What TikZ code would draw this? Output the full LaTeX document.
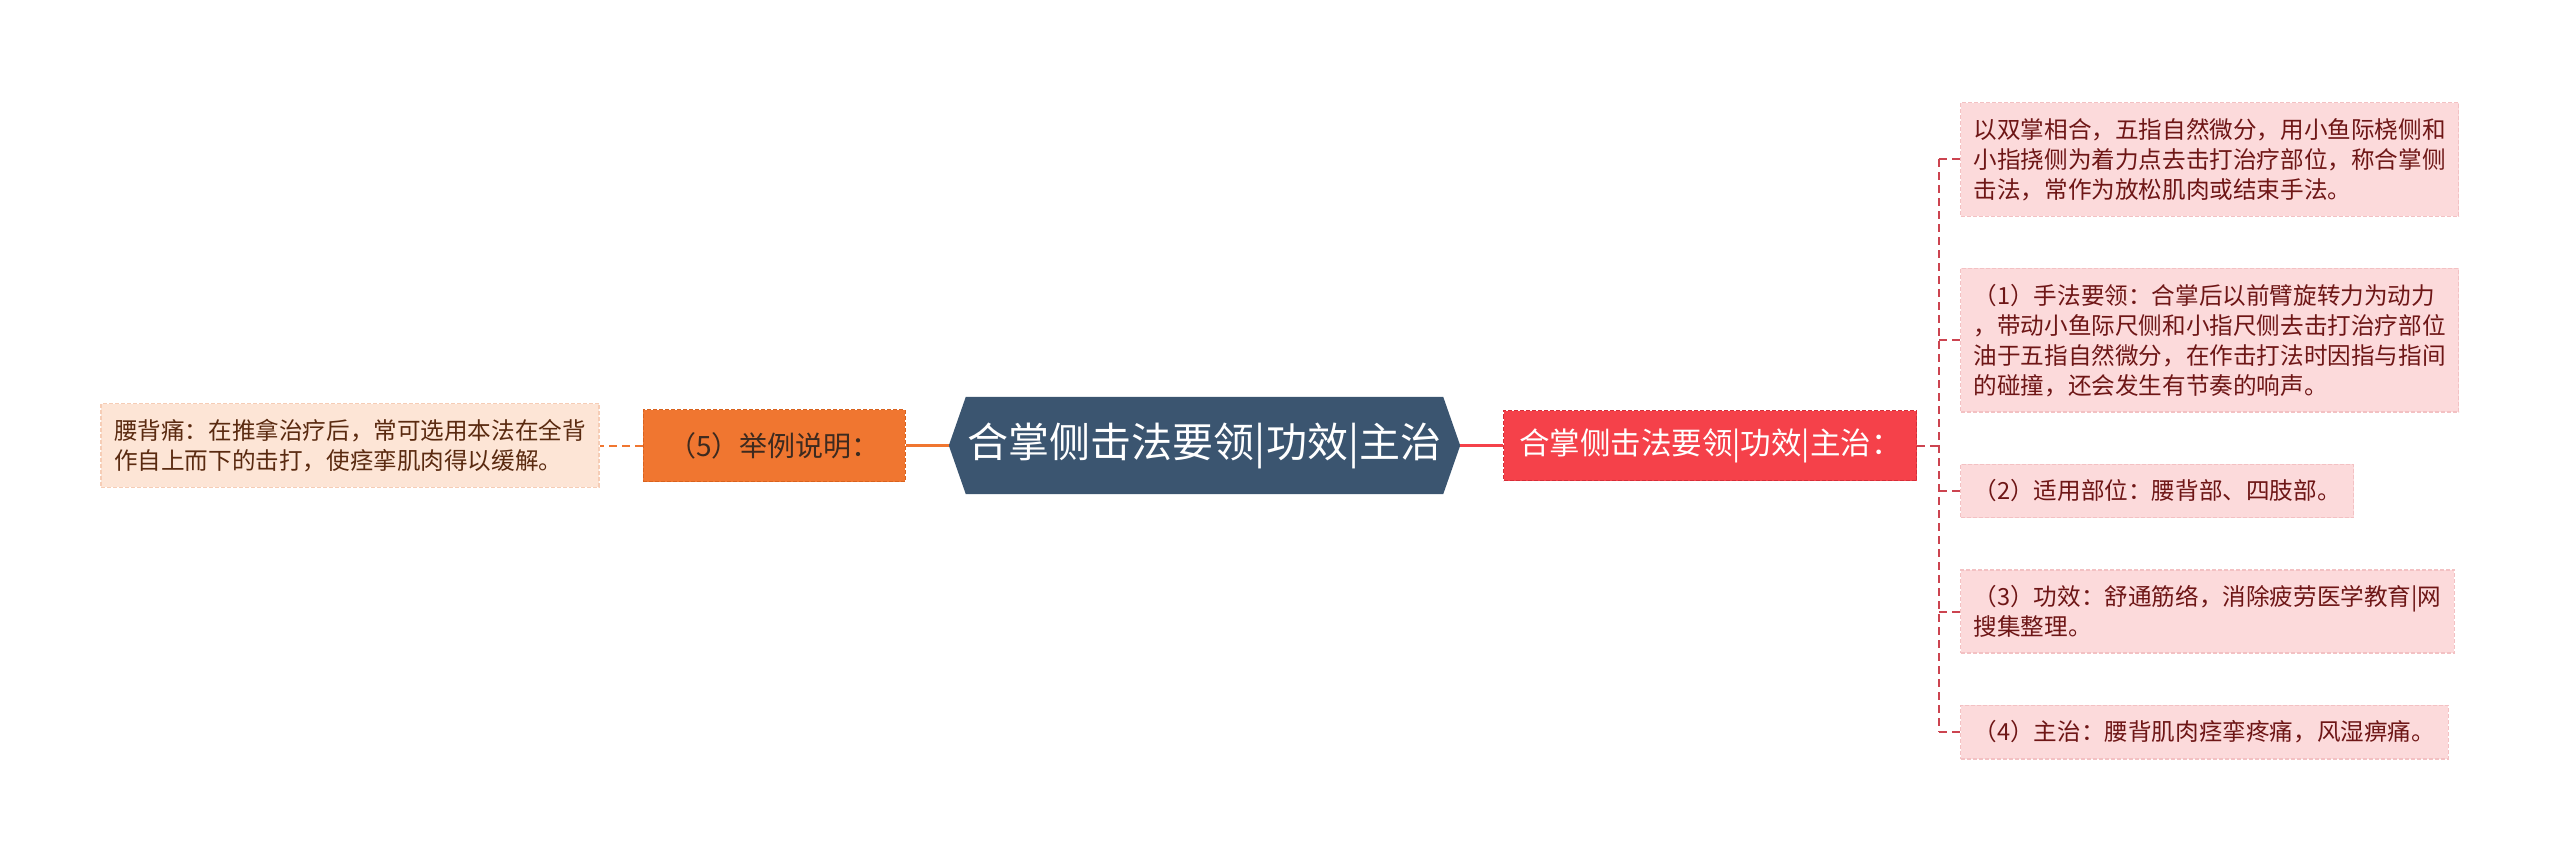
\documentclass[tikz,border=0pt]{standalone}
\usepackage{fontspec}
\setmainfont{Noto Sans CJK SC}
\usetikzlibrary{positioning,backgrounds}

\definecolor{rootblue}{HTML}{3B5570}
\definecolor{orangefill}{HTML}{F07630}
\definecolor{orangeedge}{HTML}{D9621E}
\definecolor{orangetext}{HTML}{3D2A1F}
\definecolor{peachfill}{HTML}{FDE5D6}
\definecolor{peachedge}{HTML}{F6CDB6}
\definecolor{peachtext}{HTML}{5A2A10}
\definecolor{redfill}{HTML}{F5414A}
\definecolor{rededge}{HTML}{D52E38}
\definecolor{pinkfill}{HTML}{FCDADB}
\definecolor{pinkedge}{HTML}{F3C1C3}
\definecolor{pinktext}{HTML}{6E1616}
\definecolor{trunkred}{HTML}{CC4450}

\tikzset{
  root/.style={minimum width=511pt, minimum height=97pt, inner sep=0pt,
    text=white, font=\fontsize{41}{49}\selectfont},
  orangebox/.style={fill=orangefill, draw=orangeedge, line width=1.2pt,
    dash pattern=on 4pt off 2pt, minimum width=262pt, minimum height=72pt,
    text=orangetext, font=\fontsize{28}{34}\selectfont},
  redbox/.style={fill=redfill, draw=rededge, line width=1.2pt,
    dash pattern=on 4pt off 2pt, minimum width=413pt, minimum height=70pt,
    text=white, font=\fontsize{30.5}{36}\selectfont},
  peachleaf/.style={fill=peachfill, draw=peachedge, line width=1.2pt,
    dash pattern=on 4pt off 2pt, align=left, inner xsep=13pt, inner ysep=15.5pt,
    text=peachtext, font=\fontsize{23.6}{30}\selectfont},
  pinkleaf/.style={fill=pinkfill, draw=pinkedge, line width=1.2pt,
    dash pattern=on 4pt off 2pt, align=left, inner xsep=13pt, inner ysep=15.5pt,
    text=pinktext, font=\fontsize{23.6}{30}\selectfont},
  rootline/.style={line width=3pt},
  thinlink/.style={line width=2pt, dash pattern=on 8pt off 5pt}
}

\begin{document}
\begin{tikzpicture}[x=1pt, y=-1pt]
  \useasboundingbox (0,0) rectangle (2560,861);

  % centre topic
  \node[root] (root) at (1204.5,445.5) {合掌侧击法要领|功效|主治};
  \begin{pgfonlayer}{background}
    \fill[rootblue] (root.west) -- ([xshift=17pt]root.north west)
      -- ([xshift=-17pt]root.north east) -- (root.east)
      -- ([xshift=-17pt]root.south east) -- ([xshift=17pt]root.south west) -- cycle;
  \end{pgfonlayer}

  % left branch
  \node[orangebox, left=43pt of root] (example) {（5）举例说明：};
  \node[peachleaf, left=43pt of example] (backpain)
    {腰背痛：在推拿治疗后，常可选用本法在全背\\作自上而下的击打，使痉挛肌肉得以缓解。};

  % right branch
  \node[redbox, right=43pt of root] (points) {合掌侧击法要领|功效|主治：};
  \coordinate[right=22pt of points] (fork);

  \node[pinkleaf, anchor=north west] (define) at (1960,102)
    {以双掌相合，五指自然微分，用小鱼际桡侧和\\小指挠侧为着力点去击打治疗部位，称合掌侧\\击法，常作为放松肌肉或结束手法。};
  \node[pinkleaf, below right=51pt and 0pt of define.south west] (method)
    {（1）手法要领：合掌后以前臂旋转力为动力\\，带动小鱼际尺侧和小指尺侧去击打治疗部位\\油于五指自然微分，在作击打法时因指与指间\\的碰撞，还会发生有节奏的响声。};
  \node[pinkleaf, below right=51pt and 0pt of method.south west] (sites)
    {（2）适用部位：腰背部、四肢部。};
  \node[pinkleaf, below right=51pt and 0pt of sites.south west] (effect)
    {（3）功效：舒通筋络，消除疲劳医学教育|网\\搜集整理。};
  \node[pinkleaf, below right=51pt and 0pt of effect.south west] (treat)
    {（4）主治：腰背肌肉痉挛疼痛，风湿痹痛。};

  % connectors
  \draw[rootline, orangefill] (root) -- (example);
  \draw[thinlink, orangefill] (example) -- (backpain);
  \draw[rootline, redfill] (root) -- (points);
  \draw[thinlink, trunkred] (points) -- (fork);
  \draw[thinlink, trunkred] (fork |- define.west) -- (fork |- treat.west);
  \foreach \leaf in {define,method,sites,effect,treat}
    \draw[thinlink, trunkred] (fork |- \leaf.west) -- (\leaf.west);
\end{tikzpicture}
\end{document}
